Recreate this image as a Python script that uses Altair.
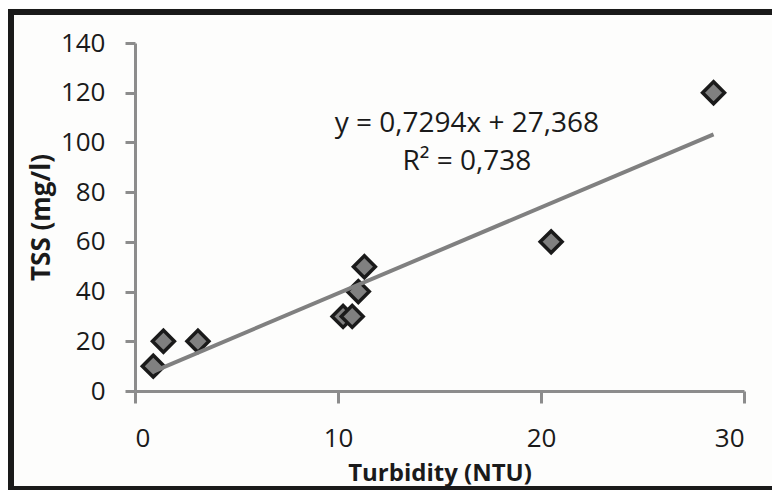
import altair as alt
import pandas as pd

# Data
turbidity = [0.9, 1.4, 3.1, 10.25, 10.7, 11.0, 11.3, 20.5, 28.5]
tss = [10, 20, 20, 30, 30, 40, 50, 60, 120]

eq_labels = ["y = 0,7294x + 27,368", "R\u00b2 = 0,738"]
eq_x = [16.35, 16.35]
eq_y = [104.2, 88.9]

x_ticks = [0, 10, 20, 30]
y_ticks = [0, 20, 40, 60, 80, 100, 120, 140]

df = pd.DataFrame({"x": turbidity, "y": tss})
eq_df = pd.DataFrame({"x": eq_x, "y": eq_y, "label": eq_labels})

FONT = "Open Sans"
AXIS_GRAY = "#8c8c8c"
INK = "#1a1a1a"

xscale = alt.Scale(domain=[0, 30], nice=False)
yscale = alt.Scale(domain=[0, 140], nice=False)

xaxis = alt.Axis(
    values=x_ticks, title="Turbidity (NTU)", grid=False,
    tickSize=12, labelPadding=22,
    titleY=89, titleFontSize=24, titleBaseline="alphabetic", titleAlign="center",
)
yaxis = alt.Axis(
    values=y_ticks, title="TSS (mg/l)", grid=False,
    tickSize=10, labelPadding=20,
    titleAngle=270, titleX=-86, titleY=174,
    titleBaseline="alphabetic", titleAlign="center",
)

points = alt.Chart(df).mark_point(
    shape="diamond", filled=True, fill="#808080", stroke=INK,
    strokeWidth=3.5, size=480, opacity=1, fillOpacity=1,
).encode(
    x=alt.X("x:Q", scale=xscale, axis=xaxis),
    y=alt.Y("y:Q", scale=yscale, axis=yaxis),
)

trend = alt.Chart(df).transform_regression("x", "y").mark_line(
    color="#808080", strokeWidth=4
).encode(
    x=alt.X("x:Q", scale=xscale),
    y=alt.Y("y:Q", scale=yscale),
)

eq_text = alt.Chart(eq_df).mark_text(
    font=FONT, fontSize=28, color=INK, align="center", baseline="alphabetic"
).encode(
    x=alt.X("x:Q", scale=xscale),
    y=alt.Y("y:Q", scale=yscale),
    text="label:N",
)

one = alt.Data(values=[{"k": 1}])
border_left = alt.Chart(one).mark_rule(color=INK, strokeWidth=6).encode(
    x=alt.value(-124), y=alt.value(-34), y2=alt.value(447)
)
border_top = alt.Chart(one).mark_rule(color=INK, strokeWidth=6).encode(
    x=alt.value(-127), x2=alt.value(637), y=alt.value(-31)
)
border_bottom = alt.Chart(one).mark_rule(color=INK, strokeWidth=4).encode(
    x=alt.value(-127), x2=alt.value(637), y=alt.value(445)
)

chart = alt.layer(
    points, trend, eq_text, border_left, border_top, border_bottom
).properties(
    width=609, height=348,
    autosize=alt.AutoSizeParams(type="none"),
    padding={"left": 127, "top": 35, "right": 28, "bottom": 99},
    background="#fdfdfc",
).configure_view(
    stroke=None
).configure_axis(
    domainColor=AXIS_GRAY, domainWidth=3, tickColor=AXIS_GRAY, tickWidth=3,
    labelFont=FONT, labelFontSize=26, labelColor=INK,
    titleFont=FONT, titleFontSize=26, titleFontWeight="bold", titleColor=INK,
)

chart.save("out.html", embed_options={"renderer": "svg", "actions": False})
